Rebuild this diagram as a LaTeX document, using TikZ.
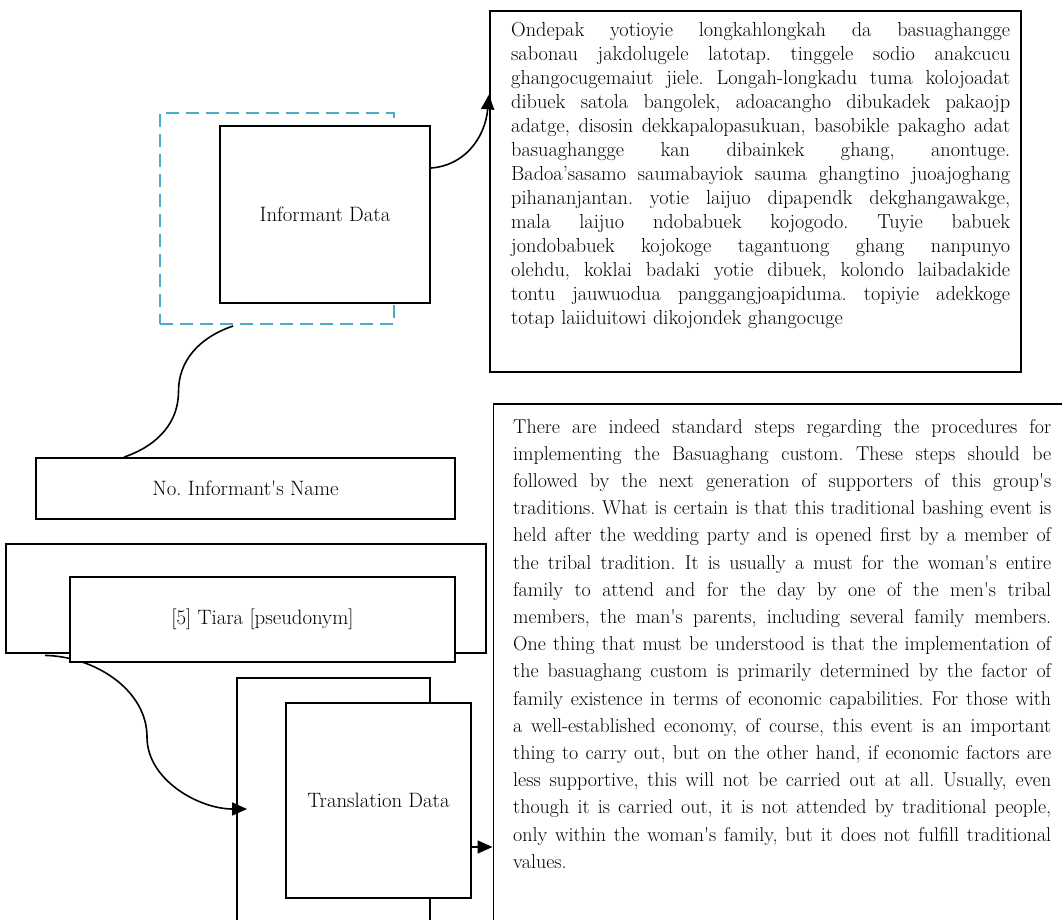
\documentclass[tikz,border=0pt]{standalone}
\usepackage{fontspec}
\usetikzlibrary{arrows.meta,calc}
\definecolor{framecyan}{RGB}{75,172,198}
\newlength\topcolw \setlength\topcolw{499pt}
\newlength\lowcolw \setlength\lowcolw{538pt}
% one justified row of a paragraph (interword glue allowed to stretch)
\newcommand\jrow[2]{{\frenchspacing\spaceskip=0pt\xspaceskip=0pt\makebox[#1][s]{#2}}}
\newcommand\sq{\textquotesingle}
\frenchspacing
\begin{document}
\begin{tikzpicture}[x=1pt,y=-1pt,
  box/.style={draw=black, line width=1.8pt, fill=white, inner sep=0pt},
  dashframe/.style={draw=framecyan, line width=2pt, dash pattern=on 13pt off 7pt, inner sep=0pt},
  lbl/.style={font=\fontsize{20.8}{24}\selectfont},
  para/.style={inner sep=0pt, anchor=base west, align=left},
  conn/.style={draw=black, line width=1.6pt},
  arr/.style={conn, -{Triangle[length=15pt,width=13pt]}}]
\useasboundingbox (0,0) rectangle (1062,920);
\clip (0,0) rectangle (1062,920);
\fill[white] (0,0) rectangle (1062,920);

% informant data with its dashed frame
\node[dashframe, minimum width=234pt, minimum height=211pt] (frame) at (277,218.5) {};
\node[box, lbl, minimum width=210pt, minimum height=177pt] (inf) at (325,214.5) {Informant Data};

% original-language transcript
\node[box, anchor=north west, minimum width=531pt, minimum height=361pt] (orig) at (489,10) {};
\node[para, text width=\topcolw, font=\fontsize{20.3}{24}\selectfont] (origtext) at (511,37) {%
\jrow{\topcolw}{Ondepak yotioyie longkahlongkah da basuaghangge}\\
\jrow{\topcolw}{sabonau jakdolugele latotap. tinggele sodio anakcucu}\\
\jrow{\topcolw}{ghangocugemaiut jiele. Longah-longkadu tuma kolojoadat}\\
\jrow{\topcolw}{dibuek satola bangolek, adoacangho dibukadek pakaojp}\\
\jrow{\topcolw}{adatge, disosin dekkapalopasukuan, basobikle pakagho adat}\\
\jrow{\topcolw}{basuaghangge kan dibainkek ghang, anontuge.}\\
\jrow{\topcolw}{Badoa’sasamo saumabayiok sauma ghangtino juoajoghang}\\
\jrow{\topcolw}{pihananjantan. yotie laijuo dipapendk dekghangawakge,}\\
\jrow{\topcolw}{mala laijuo ndobabuek kojogodo. Tuyie babuek}\\
\jrow{\topcolw}{jondobabuek kojokoge tagantuong ghang nanpunyo}\\
\jrow{\topcolw}{olehdu, koklai badaki yotie dibuek, kolondo laibadakide}\\
\jrow{\topcolw}{tontu jauwuodua panggangjoapiduma. topiyie adekkoge}\\
totap laiiduitowi dikojondek ghangocuge};

% informant name boxes
\node[box, lbl, minimum width=419pt, minimum height=61pt] (namebox) at (245.5,488.5) {No. Informant\sq s Name};
\node[box, minimum width=480pt, minimum height=109pt] (tiaraback) at (246,598.5) {};

% translation data boxes
\node[box, fill=none, minimum width=193pt, minimum height=262pt] (transback) at (333.5,809) {};
\node[box, lbl, minimum width=185pt, minimum height=195pt] (transdata) at (378.5,800.5) {Translation Data};

% name entry to translation
\coordinate (c3s) at ([xshift=-201pt,yshift=-1.5pt]tiaraback.south);
\coordinate (c3e) at ([xshift=11pt]transback.west);
\draw[arr] (c3s) .. controls +(50,1) and +(0,-47) .. (147,737)
               .. controls +(0,43) and +(-48,0) .. (c3e);
\node[box, lbl, minimum width=385pt, minimum height=85pt] (tiara) at (262.5,619.5) {[5] Tiara [pseudonym]};

% English translation
\node[box, anchor=north west, minimum width=620pt, minimum height=560pt] (transl) at (492.5,403) {};
\node[para, text width=\lowcolw, font=\fontsize{20}{27.2}\selectfont] (transltext) at (513,433) {%
\jrow{\lowcolw}{There are indeed standard steps regarding the procedures for}\\
\jrow{\lowcolw}{implementing the Basuaghang custom. These steps should be}\\
\jrow{\lowcolw}{followed by the next generation of supporters of this group\sq s}\\
\jrow{\lowcolw}{traditions. What is certain is that this traditional bashing event is}\\
\jrow{\lowcolw}{held after the wedding party and is opened first by a member of}\\
\jrow{\lowcolw}{the tribal tradition. It is usually a must for the woman\sq s entire}\\
\jrow{\lowcolw}{family to attend and for the day by one of the men\sq s tribal}\\
\jrow{\lowcolw}{members, the man\sq s parents, including several family members.}\\
\jrow{\lowcolw}{One thing that must be understood is that the implementation of}\\
\jrow{\lowcolw}{the basuaghang custom is primarily determined by the factor of}\\
\jrow{\lowcolw}{family existence in terms of economic capabilities. For those with}\\
\jrow{\lowcolw}{a well-established economy, of course, this event is an important}\\
\jrow{\lowcolw}{thing to carry out, but on the other hand, if economic factors are}\\
\jrow{\lowcolw}{less supportive, this will not be carried out at all. Usually, even}\\
\jrow{\lowcolw}{though it is carried out, it is not attended by traditional people,}\\
\jrow{\lowcolw}{only within the woman\sq s family, but it does not fulfill traditional}\\
values.};

% connectors
\coordinate (c1s) at ([yshift=46.5pt]inf.east);
\coordinate (c1e) at ([yshift=97pt]orig.west);
\draw[arr] (c1s) .. controls +(32,-2) and +(-4,45) .. (c1e);

\coordinate (c2s) at ([xshift=-44pt,yshift=-1pt]frame.south);
\coordinate (c2e) at ([xshift=-121.5pt]namebox.north);
\draw[conn] (c2s) .. controls +(-35,12) and +(0,-30) .. ($(c2s)!0.5!(c2e)$)
                  .. controls +(0,30) and +(35,-12) .. (c2e);

\coordinate (c4s) at ([yshift=-46.5pt]transdata.east);
\draw[arr] (c4s) -- (c4s -| transl.west);
\end{tikzpicture}
\end{document}
